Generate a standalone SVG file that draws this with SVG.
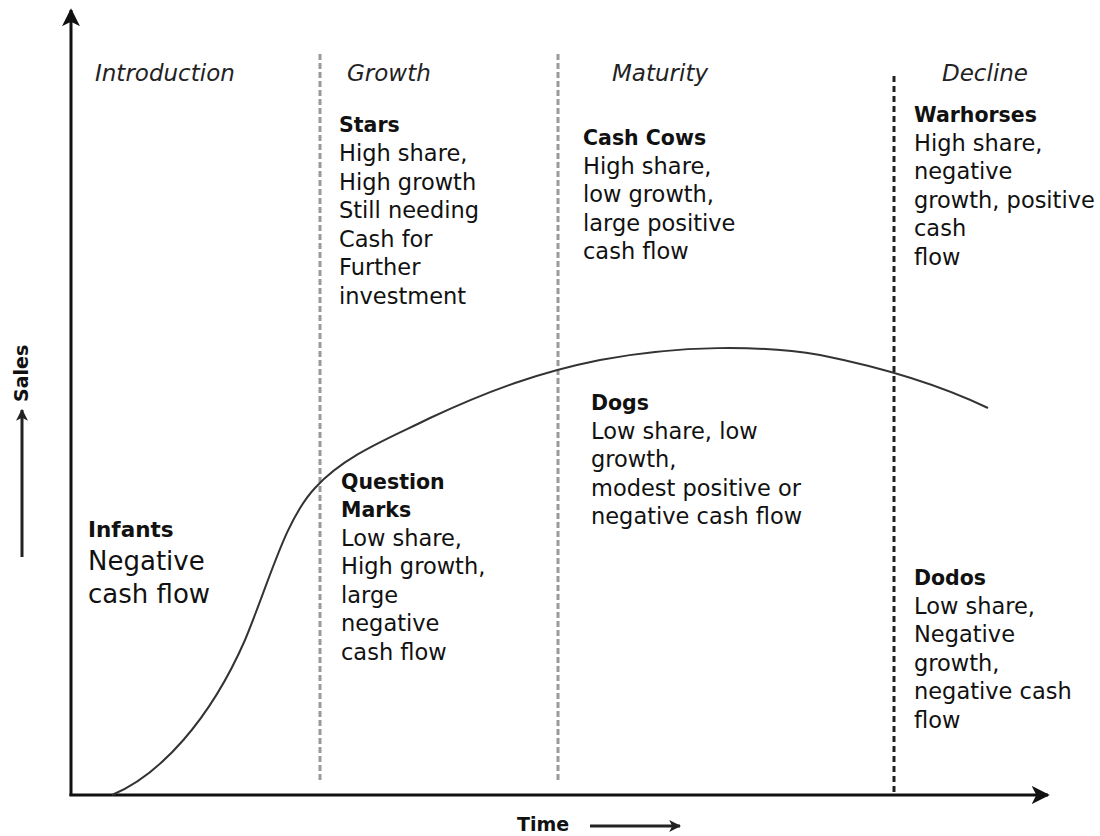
<svg xmlns="http://www.w3.org/2000/svg" width="1100" height="836" viewBox="0 0 1100 836">
<defs>
<marker id="ah" viewBox="0 0 10 10" refX="9" refY="5" markerWidth="6" markerHeight="6" orient="auto" markerUnits="strokeWidth">
<path d="M0,0 L10,5 L0,10 L2.5,5 Z" fill="#111"/>
</marker>
<marker id="ahs" viewBox="0 0 10 10" refX="9" refY="5" markerWidth="4" markerHeight="4" orient="auto" markerUnits="strokeWidth">
<path d="M0,0 L10,5 L0,10 L2.5,5 Z" fill="#222"/>
</marker>
<style>
text{font-family:"DejaVu Sans","Liberation Sans",sans-serif;fill:#111}
.b{font-size:22.5px}
.t{font-size:20.5px;font-weight:bold}
.ph{font-size:23px;font-style:italic;fill:#222}
.axis{stroke:#111;stroke-width:3;fill:none}
.grey{stroke:#9a9a9a;stroke-width:3;stroke-dasharray:6 3;fill:none}
.blk{stroke:#222;stroke-width:3;stroke-dasharray:6 4;fill:none}
</style>
</defs>
<rect width="1100" height="836" fill="#fff"/>
<g id="connectors">
<line class="axis" x1="71" y1="796" x2="71" y2="10" marker-end="url(#ah)"/>
<line class="axis" x1="69.5" y1="795" x2="1048" y2="795" marker-end="url(#ah)"/>
<line class="grey" x1="320" y1="54" x2="320" y2="782"/>
<line class="grey" x1="558" y1="54" x2="558" y2="782"/>
<line class="blk" x1="894" y1="76" x2="894" y2="795"/>
<path d="M112,795 C160,775 210,720 245,640 C270,580 285,520 315,488 C345,455 390,438 430,418 C490,390 540,372 600,360 C680,345 760,345 820,355 C880,367 940,385 988,408" fill="none" stroke="#333" stroke-width="2"/>
<line x1="22" y1="557" x2="22" y2="410" stroke="#222" stroke-width="3" marker-end="url(#ahs)"/>
<line x1="590" y1="826" x2="680" y2="826" stroke="#222" stroke-width="3" marker-end="url(#ahs)"/>
</g>
<g id="axis-labels">
<text x="0" y="0" class="t" font-size="19" transform="translate(28,402) rotate(-90)" style="font-size:19px">Sales</text>
<text x="517" y="831" class="t" style="font-size:19px">Time</text>
</g>
<g id="phases">
<text x="95" y="81" class="ph">Introduction</text>
<text x="347" y="81" class="ph">Growth</text>
<text x="612" y="81" class="ph">Maturity</text>
<text x="942" y="81" class="ph">Decline</text>
</g>
<g id="infants">
<text x="88" y="537" class="t" style="font-size:21.5px">Infants</text>
<text x="88" y="570" style="font-size:26px">Negative</text>
<text x="88" y="603" style="font-size:26px">cash flow</text>
</g>
<g id="stars">
<text x="339" y="132" class="t">Stars</text>
<text x="339" y="161" class="b">High share,</text>
<text x="339" y="189.5" class="b">High growth</text>
<text x="339" y="218" class="b">Still needing</text>
<text x="339" y="246.5" class="b">Cash for</text>
<text x="339" y="275" class="b">Further</text>
<text x="339" y="303.5" class="b">investment</text>
</g>
<g id="question-marks">
<text x="341" y="489" class="t">Question</text>
<text x="341" y="517" class="t">Marks</text>
<text x="341" y="545.5" class="b">Low share,</text>
<text x="341" y="574" class="b">High growth,</text>
<text x="341" y="602.5" class="b">large</text>
<text x="341" y="631" class="b">negative</text>
<text x="341" y="659.5" class="b">cash flow</text>
</g>
<g id="cash-cows">
<text x="583" y="145" class="t">Cash Cows</text>
<text x="583" y="173.5" class="b">High share,</text>
<text x="583" y="202" class="b">low growth,</text>
<text x="583" y="230.5" class="b">large positive</text>
<text x="583" y="259" class="b">cash flow</text>
</g>
<g id="dogs">
<text x="591" y="410" class="t">Dogs</text>
<text x="591" y="438.5" class="b">Low share, low</text>
<text x="591" y="467" class="b">growth,</text>
<text x="591" y="495.5" class="b">modest positive or</text>
<text x="591" y="524" class="b">negative cash flow</text>
</g>
<g id="warhorses">
<text x="914" y="122" class="t">Warhorses</text>
<text x="914" y="150.5" class="b">High share,</text>
<text x="914" y="179" class="b">negative</text>
<text x="914" y="207.5" class="b">growth, positive</text>
<text x="914" y="236" class="b">cash</text>
<text x="914" y="264.5" class="b">flow</text>
</g>
<g id="dodos">
<text x="914" y="585" class="t">Dodos</text>
<text x="914" y="613.5" class="b">Low share,</text>
<text x="914" y="642" class="b">Negative</text>
<text x="914" y="670.5" class="b">growth,</text>
<text x="914" y="699" class="b">negative cash</text>
<text x="914" y="727.5" class="b">flow</text>
</g>
</svg>
